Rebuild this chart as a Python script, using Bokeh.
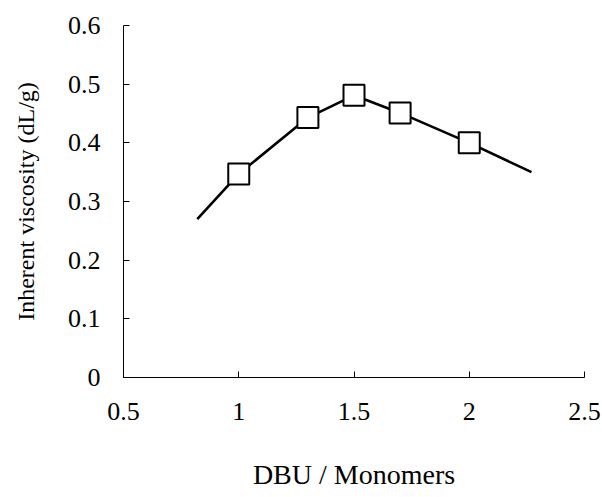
from bokeh.plotting import figure
from bokeh.models import FixedTicker, Range1d
from bokeh.embed import file_html
from bokeh.resources import INLINE

# data
dbu_ratio = [1.0, 1.3, 1.5, 1.7, 2.0]
viscosity = [0.347, 0.443, 0.481, 0.451, 0.400]
curve_x = [0.82, 1.0, 1.3, 1.5, 1.7, 2.0, 2.27]
curve_y = [0.270, 0.347, 0.443, 0.481, 0.451, 0.400, 0.350]
x_ticks = [0.5, 1.0, 1.5, 2.0, 2.5]
x_tick_labels = ["0.5", "1", "1.5", "2", "2.5"]
y_ticks = [0.0, 0.1, 0.2, 0.3, 0.4, 0.5, 0.6]
y_tick_labels = ["0", "0.1", "0.2", "0.3", "0.4", "0.5", "0.6"]

FONT = "Liberation Serif"

p = figure(width=602, height=497, output_backend="svg", toolbar_location=None,
           x_range=Range1d(0.5, 2.5), y_range=Range1d(0, 0.6),
           min_border_left=123, min_border_right=18, min_border_top=25, min_border_bottom=120)
p.outline_line_color = None
p.xgrid.visible = False
p.ygrid.visible = False
p.background_fill_color = "white"
p.border_fill_color = "white"

p.line(curve_x, curve_y, line_color="black", line_width=2.6)
p.scatter(dbu_ratio, viscosity, marker="square", size=21, fill_color="white",
          line_color="black", line_width=2)

for ax, ticks, labels in ((p.xaxis[0], x_ticks, x_tick_labels), (p.yaxis[0], y_ticks, y_tick_labels)):
    ax.ticker = FixedTicker(ticks=ticks)
    ax.major_label_overrides = {t: l for t, l in zip(ticks, labels)}
    ax.minor_tick_line_color = None
    ax.major_tick_in = 6
    ax.major_tick_out = 0
    ax.axis_line_color = "black"
    ax.axis_line_width = 1
    ax.major_tick_line_color = "black"
    ax.major_label_text_font = FONT
    ax.major_label_text_font_size = "26px"
    ax.major_label_text_color = "black"
    ax.axis_label_text_font = FONT
    ax.axis_label_text_font_style = "normal"
    ax.axis_label_text_color = "black"

p.xaxis.axis_label = "DBU / Monomers"
p.yaxis.axis_label = "Inherent viscosity (dL/g)"
p.xaxis.axis_label_text_font_size = "28px"
p.yaxis.axis_label_text_font_size = "24px"
p.xaxis.major_label_standoff = 25
p.xaxis.axis_label_standoff = 36
p.yaxis.major_label_standoff = 23
p.yaxis.axis_label_standoff = 26

open("out.html", "w").write(file_html(p, INLINE))
